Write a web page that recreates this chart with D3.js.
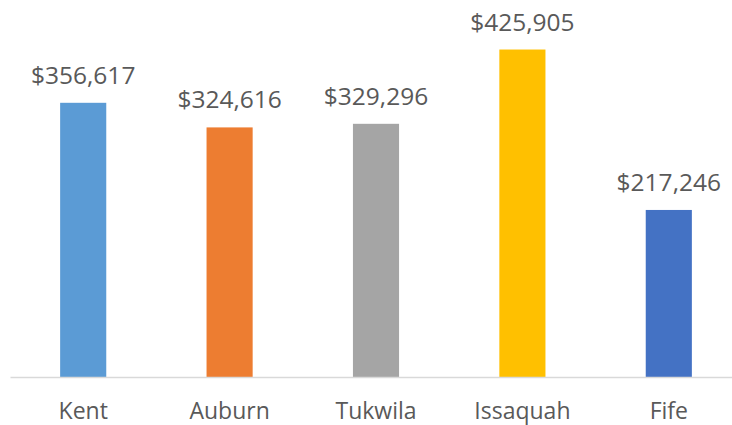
<!DOCTYPE html>
<html>
<head>
<meta charset="utf-8">
<script src="https://cdn.jsdelivr.net/npm/d3@7"></script>
<style>
  body { margin: 0; background: #fff; }
  text { font-family: "Open Sans", "Noto Sans", sans-serif; fill: #595959; }
</style>
</head>
<body>
<div id="chart"></div>
<script>
// data
var cities = ["Kent", "Auburn", "Tukwila", "Issaquah", "Fife"];
var prices = [356617, 324616, 329296, 425905, 217246];
var colors = ["#5B9BD5", "#ED7D31", "#A5A5A5", "#FFC000", "#4472C4"];

var svgWidth = 732;
var svgHeight = 425;
var margin = { top: 31, right: -10, bottom: 48, left: 10 };

var width = svgWidth - margin.left - margin.right;
var height = svgHeight - margin.top - margin.bottom;

var svg = d3.select("#chart")
    .append("svg")
    .attr("width", svgWidth)
    .attr("height", svgHeight);

var g = svg.append("g")
    .attr("transform", `translate(${margin.left}, ${margin.top})`);

var data = cities.map((c, i) => ({ city: c, price: prices[i], color: colors[i] }));

var x = d3.scaleBand()
    .domain(cities)
    .range([0, width])
    .paddingInner(0.685)
    .paddingOuter(0.3425);

var y = d3.scaleLinear()
    .domain([0, 450000])
    .range([height, 0]);

// bars
g.selectAll("rect")
    .data(data)
    .enter()
    .append("rect")
    .attr("x", d => x(d.city))
    .attr("y", d => y(d.price))
    .attr("width", x.bandwidth())
    .attr("height", d => height - y(d.price))
    .attr("fill", d => d.color);

// x axis
var xAxis = g.append("g")
    .attr("transform", `translate(0, ${height})`)
    .call(d3.axisBottom(x).tickSize(0).tickPadding(25.5));
xAxis.select(".domain").attr("stroke", "#d9d9d9").attr("stroke-width", 1.5);
xAxis.selectAll("text")
    .style("font-size", "23px")
    .attr("fill", "#595959");

// value labels
var fmt = d3.format("$,");
g.selectAll(".val")
    .data(data)
    .enter()
    .append("text")
    .attr("class", "val")
    .attr("x", d => x(d.city) + x.bandwidth() / 2)
    .attr("y", d => y(d.price) - 19)
    .attr("text-anchor", "middle")
    .style("font-size", "24.5px")
    .text(d => fmt(d.price));
</script>
</body>
</html>
